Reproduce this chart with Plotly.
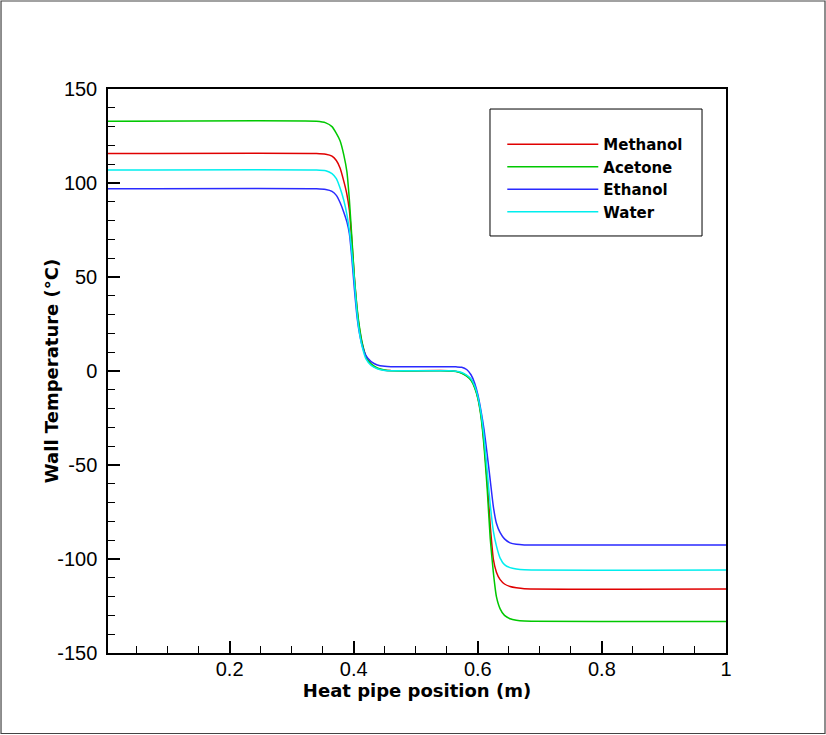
import plotly.graph_objects as go

# ---------------- data ----------------
position = [0.004, 0.34, 0.355, 0.365, 0.372, 0.378, 0.384, 0.389, 0.393, 0.397,
            0.401, 0.405, 0.409, 0.414, 0.420, 0.428, 0.438, 0.450, 0.460, 0.540,
            0.555, 0.565, 0.574, 0.582, 0.589, 0.595, 0.600, 0.605, 0.610, 0.615,
            0.620, 0.625, 0.630, 0.636, 0.643, 0.652, 0.662, 0.675, 1.000]

methanol = [115.7, 115.7, 115.3, 114.3, 112.0, 108.0, 101.0, 94.0, 85.6, 69.0,
            50.0, 34.0, 23.0, 14.0, 7.2, 3.5, 1.4, 0.4, 0.2, 0.2,
            0.1, -0.2, -1.0, -2.5, -4.5, -8.5, -14.0, -23.0, -38.0, -58.0,
            -82.0, -100.0, -107.0, -111.0, -113.3, -114.6, -115.3, -115.8, -116.0]

acetone = [132.8, 132.8, 132.0, 130.0, 126.4, 122.5, 115.0, 106.0, 91.0, 71.0,
           50.0, 35.0, 24.0, 14.5, 7.6, 3.8, 1.6, 0.5, 0.1, 0.1,
           0.0, -0.3, -1.2, -2.8, -5.0, -9.0, -14.5, -24.0, -40.0, -62.0,
           -89.0, -107.0, -120.0, -126.5, -130.0, -131.8, -132.6, -133.0, -133.2]

ethanol = [96.9, 96.9, 96.5, 95.5, 93.4, 89.6, 84.5, 79.3, 73.0, 60.0,
           44.0, 30.0, 20.5, 13.0, 8.0, 5.0, 3.2, 2.5, 2.3, 2.3,
           2.3, 2.2, 2.0, 0.8, -2.0, -6.5, -12.5, -21.0, -31.0, -44.0,
           -58.0, -72.0, -81.0, -86.0, -89.3, -91.4, -92.2, -92.5, -92.6]

water = [106.9, 106.9, 106.5, 105.0, 102.3, 97.3, 90.8, 83.2, 75.0, 63.0,
         48.0, 32.0, 21.0, 12.5, 6.3, 3.0, 1.2, 0.3, 0.1, 0.1,
         0.1, -0.1, -0.8, -2.2, -4.2, -8.0, -13.5, -22.0, -35.0, -53.0,
         -71.0, -85.0, -93.0, -99.5, -103.0, -104.6, -105.3, -105.7, -105.9]

series_names = ["Methanol", "Acetone", "Ethanol", "Water"]
series_values = [methanol, acetone, ethanol, water]
series_colors = ["#e00000", "#00c800", "#2a2aff", "#00eeee"]

x_tick_values = [0.2, 0.4, 0.6, 0.8, 1.0]
x_tick_labels = ["0.2", "0.4", "0.6", "0.8", "1"]
y_tick_values = [-150, -100, -50, 0, 50, 100, 150]
y_tick_labels = ["-150", "-100", "-50", "0", "50", "100", "150"]

# ---------------- figure ----------------
fig = go.Figure()
for name, vals, col in zip(series_names, series_values, series_colors):
    fig.add_trace(go.Scatter(
        x=position, y=vals, mode="lines", name=name,
        line=dict(color=col, width=1.5, shape="spline", smoothing=0.5),
    ))

tick_font = dict(family="Liberation Sans, Arial, sans-serif", size=20, color="black")
title_font = dict(family="DejaVu Sans, sans-serif", size=18, color="black", weight="bold")

fig.update_layout(
    width=826, height=735,
    margin=dict(l=108, r=100, t=89, b=82),
    paper_bgcolor="white", plot_bgcolor="white",
    showlegend=True,
    legend=dict(
        x=0.638, y=0.931, xanchor="left", yanchor="top",
        bgcolor="rgba(0,0,0,0)", borderwidth=0,
        font=dict(family="DejaVu Sans, sans-serif", size=15, color="black", weight="bold"),
        itemwidth=91, tracegroupgap=0,
    ),
    xaxis=dict(
        range=[0.004, 1.0], tickmode="array", tickvals=x_tick_values, ticktext=x_tick_labels,
        ticks="inside", ticklen=12, tickwidth=2, tickcolor="black",
        minor=dict(ticks="inside", ticklen=7, tickwidth=1, tickcolor="black", dtick=0.05, tick0=0, showgrid=False),
        showline=True, linecolor="black", linewidth=1.5, mirror=True,
        showgrid=False, zeroline=False, tickfont=tick_font, ticklabelstandoff=-3,
        title=dict(text="Heat pipe position (m)", font=title_font, standoff=0),
    ),
    yaxis=dict(
        range=[-150, 150], tickmode="array", tickvals=y_tick_values, ticktext=y_tick_labels,
        ticks="inside", ticklen=12, tickwidth=2, tickcolor="black",
        minor=dict(ticks="inside", ticklen=7, tickwidth=1, tickcolor="black", dtick=10, tick0=0, showgrid=False),
        showline=True, linecolor="black", linewidth=1.5, mirror=True,
        showgrid=False, zeroline=False, tickfont=tick_font, ticklabelstandoff=5,
    ),
    annotations=[dict(
        text="Wall Temperature (°C)", textangle=-90, font=title_font,
        xref="paper", yref="paper", x=-0.092, y=0.5, xanchor="center", yanchor="middle",
        showarrow=False,
    )],
    shapes=[
        # legend box
        dict(type="rect", xref="paper", yref="paper", x0=0.6181, x1=0.9612, y0=0.7394, y1=0.9645,
             line=dict(color="black", width=1), fillcolor="white", layer="below"),
        # outer frame
        dict(type="rect", xref="paper", yref="paper", x0=-0.1731, x1=1.1602, y0=-0.1427, y1=1.1560,
             line=dict(color="#444444", width=1.2), fillcolor="rgba(0,0,0,0)", layer="below"),
    ],
)

fig.write_html(
    "out.html",
    config={"displayModeBar": False},
    post_script="document.body.style.margin='0';document.body.style.overflow='hidden';",
)
